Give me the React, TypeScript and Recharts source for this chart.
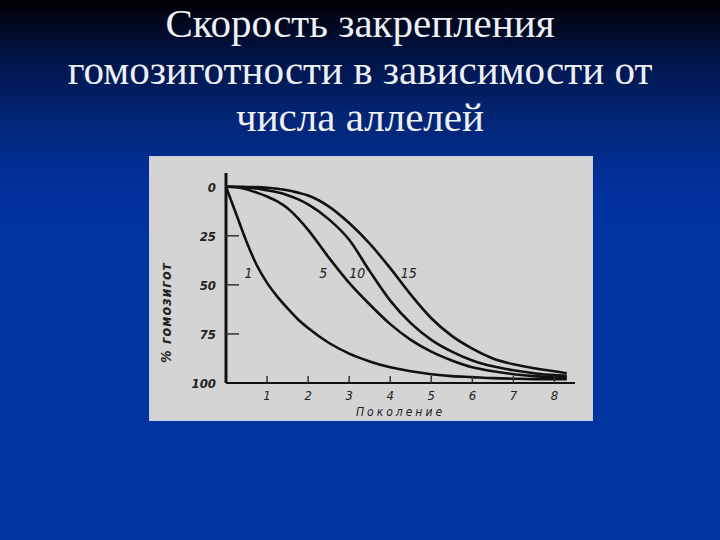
import { LineChart, Line, XAxis, YAxis, ReferenceDot } from "recharts";

// поколения (ось X)
const generations = [0, 0.25, 0.5, 0.75, 1, 1.25, 1.5, 1.75, 2, 2.5, 3, 3.5, 4, 4.5, 5, 5.5, 6, 6.5, 7, 7.5, 8, 8.3];

// % гомозигот для разного числа аллелей
const alleles1 = [0, 14, 28, 40, 49, 56, 62, 67.5, 72, 79.5, 85, 89, 92, 94, 95.5, 96.5, 97, 97.5, 97.8, 98, 98, 98];
const alleles5 = [0, 0.3, 1.3, 3, 5, 7.5, 11, 16, 22, 36, 49, 60, 70, 78, 84, 88.5, 92, 94, 95.5, 96.5, 97, 97.2];
const alleles10 = [0, 0.1, 0.4, 0.9, 1.8, 2.8, 4.3, 6.3, 9, 16.5, 27, 43, 58, 69.5, 78, 84, 88.5, 91.5, 93.5, 95, 96, 96.3];
const alleles15 = [0, 0, 0.1, 0.2, 0.5, 1, 1.8, 3, 4.5, 10, 18.5, 29, 41.5, 55, 67, 76, 82.5, 87.5, 90.5, 92.5, 94, 95];

const xTicks = [1, 2, 3, 4, 5, 6, 7, 8];
const yTicks = [0, 25, 50, 75, 100];

const curveLabels = [
  { text: "1", x: 0.55, y: 44 },
  { text: "5", x: 2.37, y: 44 },
  { text: "10", x: 3.2, y: 44 },
  { text: "15", x: 4.45, y: 44 },
];

const data = generations.map((g, i) => ({
  g,
  a1: alleles1[i],
  a5: alleles5[i],
  a10: alleles10[i],
  a15: alleles15[i],
}));

const labelFont = "'DejaVu Sans Condensed', 'DejaVu Sans', sans-serif";

const XTick = ({ x, y, payload }: any) => (
  <g>
    <line x1={x} y1={y} x2={x} y2={y - 7} stroke="#333" strokeWidth={1.5} />
    <text
      x={x}
      y={y + 17}
      textAnchor="middle"
      fontFamily={labelFont}
      fontStyle="italic"
      fontSize={13}
      fill="#222"
    >
      {payload.value}
    </text>
  </g>
);

const YTick = ({ x, y, payload }: any) => (
  <g>
    {payload.value > 0 && payload.value < 100 && (
      <line x1={x} y1={y} x2={x + 13} y2={y} stroke="#333" strokeWidth={1.5} />
    )}
    <text
      x={x - 10}
      y={y + 5}
      textAnchor="end"
      fontFamily={labelFont}
      fontStyle="italic"
      fontWeight="bold"
      fontSize={13}
      fill="#222"
    >
      {payload.value}
    </text>
  </g>
);

function Chart() {
  return (
    <LineChart
      width={442}
      height={263}
      data={data}
      margin={{ top: 16, right: 17, left: 16, bottom: 7 }}
    >
      <XAxis
        dataKey="g"
        type="number"
        domain={[0, 8.5]}
        ticks={xTicks}
        tickSize={0}
        tickMargin={0}
        tickLine={false}
        tick={<XTick />}
        axisLine={{ stroke: "#111", strokeWidth: 2 }}
        height={30}
        label={{
          value: "Поколение",
          position: "insideBottom",
          offset: -3,
          fontFamily: labelFont,
          fontStyle: "italic",
          fontSize: 12,
          letterSpacing: 3,
          fill: "#222",
        }}
      />
      <YAxis
        type="number"
        reversed
        domain={[-7, 100]}
        ticks={yTicks}
        tickSize={0}
        tickMargin={0}
        tickLine={false}
        tick={<YTick />}
        axisLine={{ stroke: "#111", strokeWidth: 3 }}
        width={60}
        allowDataOverflow
        label={{
          value: "% гомозигот",
          angle: -90,
          position: "insideLeft",
          offset: 0,
          dy: 85,
          fontFamily: labelFont,
          fontStyle: "italic",
          fontWeight: "bold",
          fontSize: 14,
          letterSpacing: 1,
          fill: "#222",
        }}
      />
      <Line type="monotone" dataKey="a1" stroke="#111" strokeWidth={2.6} dot={false} isAnimationActive={false} />
      <Line type="monotone" dataKey="a5" stroke="#111" strokeWidth={2.6} dot={false} isAnimationActive={false} />
      <Line type="monotone" dataKey="a10" stroke="#111" strokeWidth={2.6} dot={false} isAnimationActive={false} />
      <Line type="monotone" dataKey="a15" stroke="#111" strokeWidth={2.6} dot={false} isAnimationActive={false} />
      {curveLabels.map((c) => (
        <ReferenceDot
          key={c.text}
          x={c.x}
          y={c.y}
          r={0}
          stroke="none"
          fill="none"
          label={{
            value: c.text,
            position: "center",
            fontFamily: labelFont,
            fontStyle: "italic",
            fontSize: 14,
            fill: "#222",
          }}
        />
      ))}
    </LineChart>
  );
}

export default function App() {
  return (
    <div
      style={{
        position: "absolute",
        left: 0,
        top: 0,
        width: 720,
        height: 540,
        overflow: "hidden",
        background:
          "linear-gradient(to bottom, #000003 0px, #01154a 60px, #022676 120px, #01309a 180px, #0034a0 230px, #0034a0 100%)",
      }}
    >
      <div
        style={{
          position: "absolute",
          top: 0,
          left: 0,
          width: 720,
          textAlign: "center",
          color: "#eef0f6",
          fontFamily: "'Liberation Serif', 'DejaVu Serif', serif",
          fontSize: 41,
          lineHeight: "47px",
        }}
      >
        Скорость закрепления
        <br />
        гомозиготности в зависимости от
        <br />
        числа аллелей
      </div>
      <div
        style={{
          position: "absolute",
          left: 150,
          top: 157,
          width: 442,
          height: 263,
          background: "#d4d4d4",
          boxShadow: "0 0 0 1px #c6cce0",
        }}
      >
        <Chart />
      </div>
    </div>
  );
}
